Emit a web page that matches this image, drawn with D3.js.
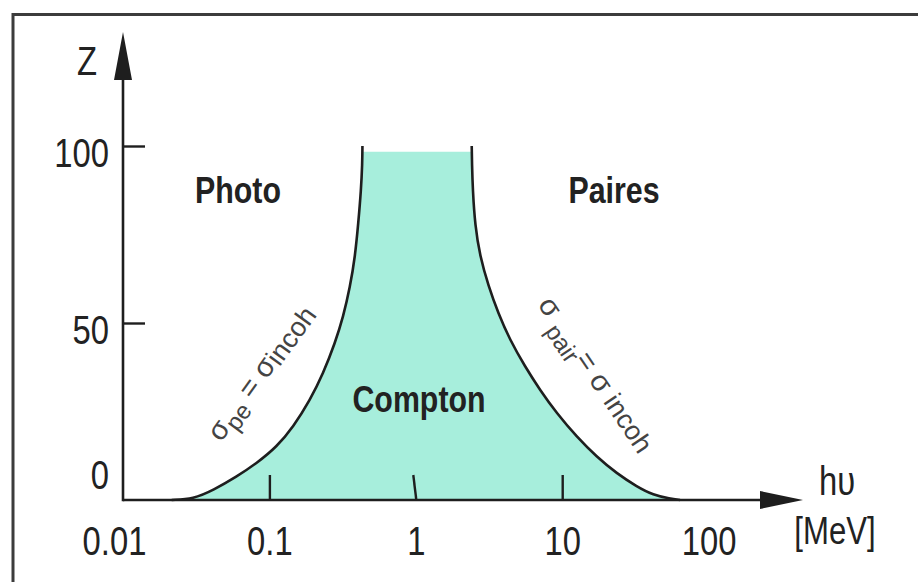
<!DOCTYPE html>
<html>
<head>
<meta charset="utf-8">
<script src="https://cdn.jsdelivr.net/npm/d3@7"></script>
<style>
  html, body { margin: 0; padding: 0; background: #fff; }
  svg { display: block; }
  text { font-family: "Liberation Sans", Arial, sans-serif; }
</style>
</head>
<body>
<svg id="chart" width="918" height="582"></svg>
<script>
// ---- data ----
const energyTicks = [0.01, 0.1, 1, 10, 100];
const energyTickLabels = ["0.01", "0.1", "1", "10", "100"];
const energyTickMarks = [0.1, 1, 10];
const zTicks = [0, 50, 100];
const zTickLabels = ["0", "50", "100"];

// photoelectric = incoherent boundary (E in MeV, Z)
const photoE = [0.0215, 0.0302, 0.0414, 0.0598, 0.0819, 0.1122, 0.1457, 0.1894, 0.2333, 0.2805, 0.3196, 0.3555, 0.3846, 0.4048, 0.4226, 0.4310, 0.4320];
const photoZ = [0, 0.3, 2.8, 6.6, 10.4, 15.0, 20.7, 28.2, 35.8, 44.3, 51.8, 60.2, 68.7, 78.2, 87.6, 95, 100];
// pair = incoherent boundary
const pairE = [2.41, 2.42, 2.45, 2.54, 2.74, 3.13, 3.66, 4.40, 5.57, 7.05, 9.17, 12.55, 17.2, 23.6, 32.3, 41.9, 54.5, 63.8];
const pairZ = [100, 95, 87.6, 77.5, 69.0, 60.5, 52.7, 45.2, 37.7, 31.1, 24.5, 17.9, 12.2, 7.5, 3.8, 1.4, 0.4, 0];
const comptonTopZ = 98.4;

const regionLabels = ["Photo", "Compton", "Paires"];

// ---- layout ----
const svg = d3.select("#chart");
const x = d3.scaleLog().domain([0.01, 100]).range([123, 708.6]);
const y = d3.scaleLinear().domain([0, 100]).range([500, 146]);
const ink = "#1e1e1e";
const SX = 0.82;

// frame
svg.append("path")
  .attr("d", "M13,582 L13,14.5 L918,14.5")
  .attr("fill", "none").attr("stroke", "#3c3c3c").attr("stroke-width", 3);

// curves
const photoPts = photoE.map((e, i) => [e, photoZ[i]]);
const pairPts = pairE.map((e, i) => [e, pairZ[i]]);
const line = d3.line().x(d => x(d[0])).y(d => y(d[1])).curve(d3.curveBasis);
const photoPath = line(photoPts);
const pairPath = line(pairPts);

// Compton filled region (between the two boundaries, capped at comptonTopZ)
svg.append("clipPath").attr("id", "topcap")
  .append("rect")
  .attr("x", 0).attr("y", y(comptonTopZ))
  .attr("width", 918).attr("height", y(0) - y(comptonTopZ));
svg.append("path")
  .attr("d", photoPath + "L" + pairPath.slice(1) + `L${x(pairE[pairE.length - 1])},${y(0)}L${x(photoE[0])},${y(0)}Z`)
  .attr("clip-path", "url(#topcap)")
  .attr("fill", "#a7eedc");

[photoPath, pairPath].forEach(p => {
  svg.append("path")
    .attr("d", p)
    .attr("fill", "none").attr("stroke", ink).attr("stroke-width", 2.6);
});

// x axis
const xAxis = svg.append("g")
  .attr("transform", `translate(0,${y(0)})`)
  .call(d3.axisBottom(x).tickValues(energyTicks)
    .tickFormat((d, i) => energyTickLabels[i])
    .tickSizeInner(-25).tickSizeOuter(0));
xAxis.select(".domain").remove();
xAxis.selectAll(".tick line")
  .attr("stroke", ink).attr("stroke-width", 2.4)
  .attr("opacity", d => energyTickMarks.includes(d) ? 1 : 0)
  .attr("x2", d => d === 1 ? -3 : 0);
xAxis.selectAll(".tick text")
  .attr("y", 0).attr("dy", 0)
  .attr("transform", (d, i) => `translate(${i === 0 ? -9 : 0},55) scale(${SX},1)`)
  .attr("font-size", 40).attr("fill", "#222")
  .attr("font-family", "Liberation Sans, Arial, sans-serif");

// y axis
const yAxis = svg.append("g")
  .attr("transform", `translate(${x(0.01)},0)`)
  .call(d3.axisLeft(y).tickValues(zTicks)
    .tickFormat((d, i) => zTickLabels[i])
    .tickSizeInner(-22).tickSizeOuter(0));
yAxis.select(".domain").remove();
yAxis.selectAll(".tick line")
  .attr("stroke", ink).attr("stroke-width", 2.4)
  .attr("opacity", d => d === 0 ? 0 : 1);
yAxis.selectAll(".tick text")
  .attr("x", 0).attr("dy", 0)
  .attr("text-anchor", "end")
  .attr("transform", d => `translate(-14,${d === 0 ? -12 : 20}) scale(${SX},1)`)
  .attr("font-size", 40).attr("fill", "#222")
  .attr("font-family", "Liberation Sans, Arial, sans-serif");

// axis lines with arrows
const x0 = x(0.01), y0 = y(0);
svg.append("line").attr("x1", x0).attr("y1", y0).attr("x2", 765).attr("y2", y0)
  .attr("stroke", ink).attr("stroke-width", 2.6);
svg.append("path").attr("d", `M${x0},${y0 + 1.3} L${x0},78`)
  .attr("stroke", ink).attr("stroke-width", 2.6).attr("fill", "none");
svg.append("path").attr("d", `M803,${y0} L760,${y0 - 9} L760,${y0 + 9} Z`).attr("fill", ink);
svg.append("path").attr("d", `M${x0},32 L${x0 - 9},80 L${x0 + 9},80 Z`).attr("fill", ink);

// axis titles
function flatText(txt, tx, ty, size, weight, anchor) {
  return svg.append("text")
    .attr("transform", `translate(${tx},${ty}) scale(${SX},1)`)
    .attr("text-anchor", anchor || "middle")
    .attr("font-size", size).attr("font-weight", weight || "normal")
    .attr("fill", "#222").text(txt);
}
flatText("Z", 87, 75, 40);
flatText("hυ", 837, 495, 40);
flatText("[MeV]", 835, 544, 38);

// region labels
flatText(regionLabels[0], 238, 203, 37, "bold");
flatText(regionLabels[1], 419, 412, 37, "bold");
flatText(regionLabels[2], 614, 203, 37, "bold");

// rotated boundary labels
const lab1 = svg.append("text")
  .attr("transform", "translate(268,378) rotate(-54)")
  .attr("text-anchor", "middle").attr("font-size", 29).attr("fill", "#444");
lab1.append("tspan").text("σ");
lab1.append("tspan").attr("dy", 7).attr("font-size", 24).text("pe");
lab1.append("tspan").attr("dy", -7).text(" = σ");
lab1.append("tspan").attr("dy", 3).attr("font-size", 27).text("incoh");

const lab2 = svg.append("text")
  .attr("transform", "translate(588,380) rotate(56)")
  .attr("text-anchor", "middle").attr("font-size", 29).attr("fill", "#444");
lab2.append("tspan").text("σ ");
lab2.append("tspan").attr("dy", 9).attr("font-size", 24).text("pair");
lab2.append("tspan").attr("dy", -9).text("= σ ");
lab2.append("tspan").attr("font-size", 27).text("incoh");
</script>
</body>
</html>
